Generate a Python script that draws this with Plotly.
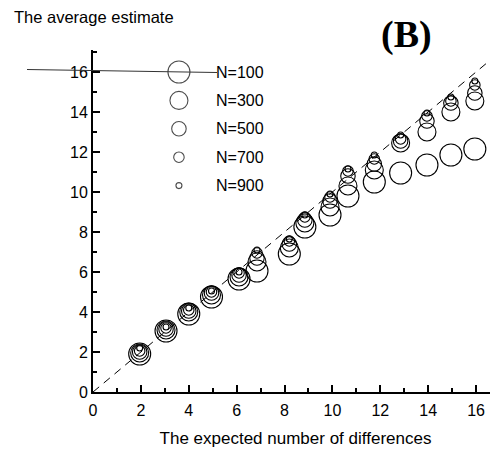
import plotly.graph_objects as go

# ---- data ----
expected_x = [1.95, 3.05, 4.0, 4.95, 6.1, 6.85, 8.2, 8.85, 9.9, 10.65, 11.75, 12.85, 13.95, 14.95, 15.95]
est_N100 = [1.9, 3.05, 3.9, 4.75, 5.65, 6.05, 6.9, 8.25, 8.85, 9.8, 10.5, 10.95, 11.35, 11.85, 12.15]
est_N300 = [1.95, 3.1, 4.0, 4.85, 5.75, 6.5, 7.2, 8.45, 9.25, 10.3, 11.1, 12.45, 13.0, 14.0, 14.55]
est_N500 = [2.0, 3.15, 4.05, 4.95, 5.85, 6.7, 7.4, 8.6, 9.55, 10.8, 11.4, 12.55, 13.55, 14.45, 14.95]
est_N700 = [2.05, 3.2, 4.1, 5.0, 5.95, 6.95, 7.55, 8.75, 9.75, 11.05, 11.65, 12.65, 13.8, 14.55, 15.35]
est_N900 = [2.2, 3.25, 4.2, 5.05, 6.0, 7.1, 7.65, 8.85, 9.9, 11.15, 11.85, 12.85, 13.95, 14.75, 15.55]
series_names = ["N=100", "N=300", "N=500", "N=700", "N=900"]
series_values = [est_N100, est_N300, est_N500, est_N700, est_N900]
marker_sizes = [22, 18, 14.5, 10.5, 6]
identity_line = [0, 17.5]
x_tick_vals = [0, 2, 4, 6, 8, 10, 12, 14, 16]
y_tick_vals = [0, 2, 4, 6, 8, 10, 12, 14, 16]

# page has an 8px body margin; the figure is sized to fill the rest of the window
OFF = 8
W, H = 498 - OFF, 455 - OFF
PL, PT, PB, PR = 93, 50, 392, 498          # plot-area edges in window pixels
L, T = PL - OFF, PT - OFF
B = H - (PB - OFF)
R = W - (PR - OFF)
XMAX = (PR - PL) / 23.94
YMAX = (PB - PT) / 20.0


def px_to_paper(px, py):
    return (px - PL) / (PR - PL), (PB - py) / (PB - PT)


fig = go.Figure()

# identity reference line
fig.add_trace(go.Scatter(x=identity_line, y=identity_line, mode="lines",
                         line=dict(color="black", width=1, dash="8px,6px"),
                         showlegend=False, hoverinfo="skip"))

for name, vals, ms in zip(series_names, series_values, marker_sizes):
    fig.add_trace(go.Scatter(x=expected_x, y=vals, mode="markers", name=name,
                             marker=dict(symbol="circle-open", size=ms, color="black",
                                         line=dict(width=1.1, color="black")),
                             showlegend=False))

# hand-drawn legend (sizes larger than plotly's legend allows)
leg_x = 3.59
leg_y0 = 16.0
leg_step = 1.42
leg_y = [leg_y0 - i * leg_step for i in range(len(series_names))]
fig.add_trace(go.Scatter(x=[leg_x] * len(series_names), y=leg_y, mode="markers",
                         marker=dict(symbol="circle-open", size=marker_sizes, color="black",
                                     line=dict(width=1.1, color="black")),
                         showlegend=False, hoverinfo="skip", cliponaxis=False))
annotations = []
for name, yy in zip(series_names, leg_y):
    annotations.append(dict(x=5.05, y=yy, xref="x", yref="y", text=name, showarrow=False,
                            xanchor="left", yanchor="middle",
                            font=dict(family="Liberation Sans, Arial", size=16, color="black")))

tx, ty = px_to_paper(12, 17)
annotations.append(dict(x=tx, y=ty, xref="paper", yref="paper", xanchor="left",
                        yanchor="middle", text="The average estimate", showarrow=False,
                        font=dict(family="Liberation Sans, Arial", size=16.5, color="black")))
bx, by = px_to_paper(406, 34)
annotations.append(dict(x=bx, y=by, xref="paper", yref="paper", xanchor="center",
                        yanchor="middle", text="<b>(B)</b>", showarrow=False,
                        font=dict(family="Liberation Serif, Times New Roman", size=38, color="black")))

x0p, y0p = px_to_paper(27, 69.5)
x1p, y1p = px_to_paper(217, 72.5)

fig.update_layout(
    width=W, height=H,
    margin=dict(l=L, r=R, t=T, b=B, pad=0),
    paper_bgcolor="white", plot_bgcolor="white",
    font=dict(family="Liberation Sans, Arial", size=16, color="black"),
    annotations=annotations,
    shapes=[dict(type="line", xref="paper", yref="paper", x0=x0p, y0=y0p, x1=x1p, y1=y1p,
                 line=dict(color="#333333", width=1.2))],
    showlegend=False,
)
fig.update_xaxes(range=[0, XMAX], tickvals=x_tick_vals, showline=True, linecolor="black",
                 linewidth=2, ticks="inside", ticklen=7, tickwidth=2, tickcolor="black",
                 minor=dict(dtick=1, tick0=0, ticks="inside", ticklen=4, tickwidth=1.5, tickcolor="black"),
                 showgrid=False, zeroline=False, ticklabelstandoff=3,
                 tickfont=dict(size=16),
                 title=dict(text="The expected number of differences", font=dict(size=17), standoff=14))
fig.update_yaxes(range=[0, YMAX], tickvals=y_tick_vals, showline=True, linecolor="black",
                 linewidth=2, ticks="inside", ticklen=7, tickwidth=2, tickcolor="black",
                 minor=dict(dtick=1, tick0=0, ticks="inside", ticklen=4, tickwidth=1.5, tickcolor="black"),
                 showgrid=False, zeroline=False, tickfont=dict(size=16))

fig.write_html("out.html")
